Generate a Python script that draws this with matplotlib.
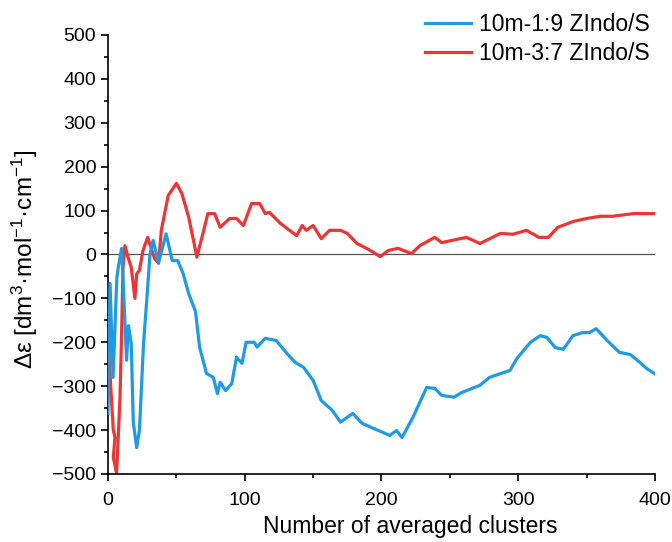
import matplotlib.pyplot as plt
from matplotlib.ticker import MultipleLocator

plt.rcParams['font.family'] = ['Liberation Sans', 'DejaVu Sans']
plt.rcParams['mathtext.fontset'] = 'custom'
plt.rcParams['mathtext.rm'] = 'Liberation Sans'
plt.rcParams['mathtext.it'] = 'Liberation Sans:italic'

# averaged CD intensity vs number of clusters
x_19 = [0, 1.5, 3.7, 6.5, 7.5, 10, 13.6, 15, 17, 18.5, 21, 23, 26, 28.5, 30.7,
        33, 37, 42.5, 47, 51, 55, 59, 64, 67, 72, 77, 80, 82, 86, 90.5, 94, 98,
        101, 107, 109, 115, 123, 131, 137, 143, 150, 156, 164, 170, 179, 186,
        194, 206, 211, 215, 223, 233, 239, 244, 253, 259, 272, 279, 294, 299,
        309, 316, 321, 327, 333, 340, 347, 352, 357, 365, 374, 382, 389, 394, 400]
y_19 = [-362, -66, -280, -52, -30, 14, -241, -162, -203, -382, -440, -400, -203,
        -97, 0, 32, -18, 47, -14, -14, -44, -89, -130, -211, -271, -280, -317,
        -291, -310, -294, -234, -248, -200, -200, -211, -191, -196, -226, -246,
        -257, -287, -333, -355, -382, -362, -385, -396, -412, -401, -417, -371,
        -303, -305, -321, -325, -314, -298, -280, -264, -237, -200, -185, -189,
        -212, -216, -185, -178, -178, -169, -196, -223, -228, -246, -260, -272]

x_37 = [0, 2.7, 3.9, 5.1, 3.9, 6.3, 8.8, 10, 11, 12.4, 14.6, 17, 19.7, 21, 23,
        25.6, 29, 34, 37, 39, 44, 50, 54, 59, 65, 70, 73, 78, 82, 89, 94, 99,
        105, 111, 115, 118, 126, 131, 138, 142, 145, 150, 156, 162, 170, 175,
        182, 189, 194, 199, 205, 212, 222, 228, 239, 244, 262, 272, 287, 296,
        306, 315, 322, 329, 340, 350, 360, 369, 384, 400]
y_37 = [-189, -340, -400, -417, -462, -499, -325, -173, -30, 20, -6, -30, -100,
        -44, -36, 9, 39, -9, -20, 55, 134, 162, 139, 85, -6, 55, 93, 93, 62,
        82, 82, 66, 116, 116, 93, 96, 71, 59, 43, 66, 55, 66, 36, 55, 55, 48,
        25, 14, 5, -5, 9, 14, 2, 20, 39, 27, 39, 25, 48, 46, 55, 39, 39, 62,
        75, 82, 87, 87, 93, 93]

labels = ['10m-1:9 ZIndo/S', '10m-3:7 ZIndo/S']
colors = ['#1e9be4', '#ec3535']

fig = plt.figure(figsize=(6.72, 5.42), dpi=100)
ax = fig.add_axes([0.1607, 0.1255, 0.814, 0.81])

ax.axhline(0, color='#555555', lw=0.9, zorder=1)
ax.plot(x_19, y_19, color=colors[0], lw=2.3, label=labels[0], zorder=3)
ax.plot(x_37, y_37, color=colors[1], lw=2.3, label=labels[1], zorder=2)

ax.set_xlim(0, 400)
ax.set_ylim(-500, 500)
ax.xaxis.set_major_locator(MultipleLocator(100))
ax.xaxis.set_minor_locator(MultipleLocator(50))
ax.yaxis.set_major_locator(MultipleLocator(100))
ax.yaxis.set_minor_locator(MultipleLocator(50))
ax.tick_params(which='both', direction='out', width=1.2, labelsize=14)
ax.tick_params(which='major', length=5)
ax.tick_params(which='minor', length=3)
ax.tick_params(axis='x', pad=8)
ax.spines['top'].set_visible(False)
ax.spines['right'].set_visible(False)
for s in ('left', 'bottom'):
    ax.spines[s].set_linewidth(1.2)

ax.set_xlabel('Number of averaged clusters', fontsize=16.5)
ax.xaxis.set_label_coords(0.552, -0.093)
ax.set_ylabel('Δε [dm$^3$·mol$^{-1}$·cm$^{-1}$]', fontsize=17.5)
ax.yaxis.set_label_coords(-0.125, 0.49)

fig.legend(loc='upper right', bbox_to_anchor=(0.997, 1.014), frameon=False,
           fontsize=16.5, handlelength=2.0, handletextpad=0.35, labelspacing=0.25)

fig.savefig('out.png', dpi=100)
